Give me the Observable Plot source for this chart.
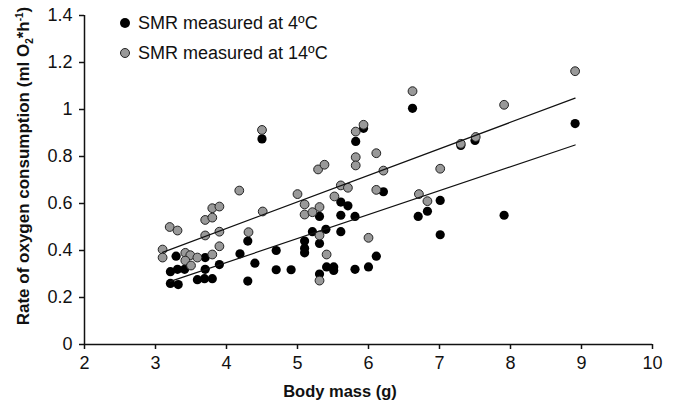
<!DOCTYPE html>
<html><head><meta charset="utf-8">
<script src="https://cdn.jsdelivr.net/npm/d3@7"></script>
<script src="https://cdn.jsdelivr.net/npm/@observablehq/plot@0.6"></script>
<style>
body{margin:0;background:#fff;}
#wrap{position:relative;width:676px;height:405px;font-family:"Liberation Sans",Arial,sans-serif;}
.leg{position:absolute;left:120px;font-size:18px;color:#111;display:flex;align-items:center;white-space:nowrap;line-height:1;}
.leg .d{display:inline-block;width:10px;height:10px;border-radius:50%;margin-right:8px;box-sizing:border-box;}
</style></head>
<body><div id="wrap"></div>
<script>
// SMR measured at 4ºC (black)
const blackX = [3.21,3.21,3.32,3.29,3.31,3.41,3.59,3.70,3.70,3.69,3.80,3.90,4.19,4.30,4.30,4.40,4.50,4.70,4.70,4.91,
  5.10,5.10,5.10,5.21,5.31,5.31,5.31,5.40,5.41,5.51,5.51,5.61,5.71,5.61,5.81,5.61,5.81,6.00,6.11,6.21,
  5.82,5.93,6.62,6.70,6.83,7.01,7.01,7.30,7.50,7.91,8.91];
const blackY = [0.31,0.26,0.255,0.376,0.32,0.32,0.276,0.37,0.32,0.28,0.28,0.34,0.386,0.44,0.27,0.346,0.875,0.40,0.318,0.318,
  0.44,0.41,0.39,0.48,0.545,0.43,0.30,0.49,0.33,0.33,0.315,0.606,0.59,0.55,0.545,0.48,0.32,0.33,0.376,0.65,
  0.864,0.92,1.005,0.545,0.567,0.613,0.467,0.847,0.868,0.55,0.94];
// SMR measured at 14ºC (grey)
const grayX = [3.10,3.10,3.20,3.31,3.42,3.49,3.59,3.42,3.50,3.70,3.70,3.80,3.80,3.80,3.90,3.90,3.90,4.18,4.31,4.50,4.51,
  5.00,5.10,5.10,5.21,5.29,5.38,5.31,5.31,5.31,5.41,5.52,5.61,5.71,5.82,5.82,5.82,5.93,6.11,6.11,6.00,6.21,
  6.62,6.71,6.83,7.01,7.30,7.51,7.91,8.91];
const grayY = [0.404,0.37,0.50,0.485,0.39,0.38,0.37,0.357,0.336,0.53,0.464,0.58,0.54,0.383,0.587,0.48,0.418,0.655,0.478,0.913,0.566,
  0.64,0.596,0.553,0.563,0.745,0.765,0.585,0.464,0.272,0.383,0.63,0.677,0.667,0.797,0.762,0.906,0.935,0.814,0.658,0.454,0.74,
  1.078,0.64,0.61,0.748,0.854,0.883,1.02,1.163];
const seriesNames = ["SMR measured at 4ºC", "SMR measured at 14ºC"];
const seriesFill = ["#000000", "#999999"];
const xTicks = [2,3,4,5,6,7,8,9,10];
const yTicks = [0,0.2,0.4,0.6,0.8,1,1.2,1.4];
const xLabel = "Body mass (g)";

const black = blackX.map((x,i)=>({x, y: blackY[i]}));
const gray = grayX.map((x,i)=>({x, y: grayY[i]}));

const chart = Plot.plot({
  width: 676, height: 405,
  marginLeft: 84, marginRight: 24, marginTop: 15, marginBottom: 61,
  style: {fontFamily: "'Liberation Sans', Arial, sans-serif", fontSize: "18px", color: "#111", background: "white"},
  x: {domain: [2, 10]},
  y: {domain: [0, 1.4]},
  marks: [
    Plot.axisX({ticks: xTicks, tickSize: 5, tickPadding: 7, label: null, tickFormat: d => String(d), stroke: "#111", strokeWidth: 1.5, fontSize: 18}),
    Plot.axisY({ticks: yTicks, tickSize: 5, tickPadding: 7, label: null, tickFormat: d => String(d), stroke: "#111", strokeWidth: 1.5, fontSize: 18}),
    Plot.ruleY([0], {stroke: "#111", strokeWidth: 1.5}),
    Plot.ruleX([2], {stroke: "#111", strokeWidth: 1.5}),
    Plot.dot(black, {x: "x", y: "y", r: 4.6, fill: seriesFill[0]}),
    Plot.dot(gray, {x: "x", y: "y", r: 4.4, fill: seriesFill[1], stroke: "#222", strokeWidth: 1}),
    Plot.linearRegressionY(black, {x: "x", y: "y", stroke: "#111", strokeWidth: 1.2, ci: 0}),
    Plot.linearRegressionY(gray, {x: "x", y: "y", stroke: "#111", strokeWidth: 1.2, ci: 0})
  ]
});

const wrap = document.getElementById("wrap");
wrap.appendChild(chart);
const svg = d3.select(chart);

// x axis title
svg.append("text")
  .attr("x", 340).attr("y", 397)
  .attr("text-anchor", "middle")
  .attr("font-weight", "bold").attr("font-size", 16.5)
  .attr("fill", "#111")
  .text(xLabel);

// y axis title
const yt = svg.append("text")
  .attr("transform", "translate(29,166) rotate(-90)")
  .attr("text-anchor", "middle")
  .attr("font-weight", "bold").attr("font-size", 17)
  .attr("fill", "#111");
yt.append("tspan").text("Rate of oxygen consumption (ml O");
yt.append("tspan").attr("font-size", 10).attr("dy", 4).text("2");
yt.append("tspan").attr("dy", -4).text("*h");
yt.append("tspan").attr("font-size", 10).attr("dy", -6).text("-1");
yt.append("tspan").attr("dy", 6).text(")");

// legend
seriesNames.forEach((name, i) => {
  const div = document.createElement("div");
  div.className = "leg";
  div.style.top = (i === 0 ? 14 : 44) + "px";
  const dot = document.createElement("span");
  dot.className = "d";
  dot.style.background = seriesFill[i];
  if (i === 1) dot.style.border = "1px solid #222";
  div.appendChild(dot);
  div.appendChild(document.createTextNode(name));
  wrap.appendChild(div);
});
</script>
</body></html>
